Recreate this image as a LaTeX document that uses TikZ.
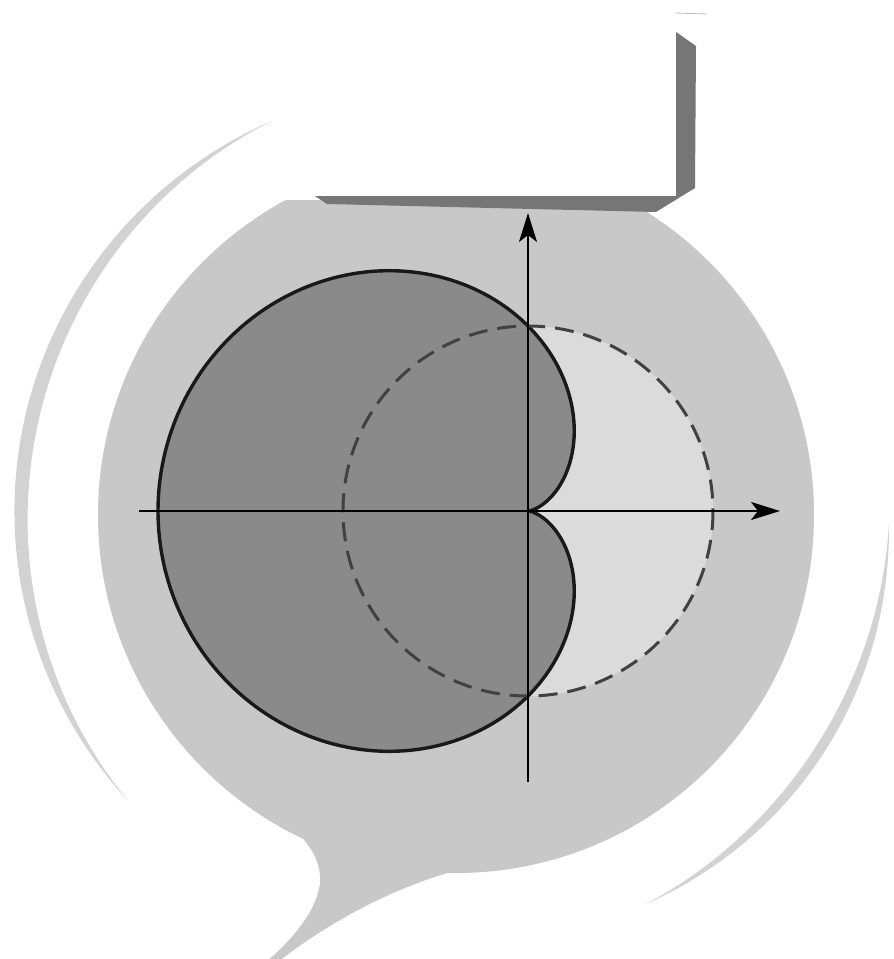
\documentclass[tikz,border=0pt]{standalone}
\usetikzlibrary{arrows.meta}
\definecolor{blobgray}{RGB}{200,200,200}
\definecolor{innergray}{RGB}{219,219,219}
\definecolor{cardgray}{RGB}{138,138,138}
\definecolor{bargray}{RGB}{118,118,118}
\definecolor{ringgray}{RGB}{210,210,210}
\definecolor{dashgray}{RGB}{65,65,65}
\tikzset{
  blob/.style={fill=blobgray},
  ring/.style={fill=ringgray},
  axis/.style={line width=2pt, -{Stealth[length=29pt,width=18pt,inset=7pt]}},
  curve/.style={line width=3.4pt, draw=black!90, fill=cardgray},
  dashcircle/.style={line width=3pt, draw=dashgray, dash pattern=on 19pt off 10pt},
  barstyle/.style={fill=bargray}
}
\begin{document}
\begin{tikzpicture}[x=1pt,y=-1pt]
\useasboundingbox (0,0) rectangle (894,959);
\fill[white] (0,0) rectangle (894,959);
% named points
\coordinate (C) at (456,515);
\coordinate (O) at (528,511);
\coordinate (xl) at (139,511);
\coordinate (xr) at (780,511);
\coordinate (yb) at (528,782);
\coordinate (yt) at (528,213);
% outer thin crescents
\fill[ring] plot[domain=115:221,samples=90]
  ({456+(435+7*sin((\x-115)/106*180))*cos(\x)},{515-(435+7*sin((\x-115)/106*180))*sin(\x)})
  -- plot[domain=221:115,samples=90]
  ({456+(435-7*sin((\x-115)/106*180))*cos(\x)},{515-(435-7*sin((\x-115)/106*180))*sin(\x)})
  -- cycle;
\fill[ring] plot[domain=-64:-1,samples=90]
  ({456+(433+5*sin((\x+64)/63*180))*cos(\x)},{515-(433+5*sin((\x+64)/63*180))*sin(\x)})
  -- plot[domain=-1:-64,samples=90]
  ({456+(433-5*sin((\x+64)/63*180))*cos(\x)},{515-(433-5*sin((\x+64)/63*180))*sin(\x)})
  -- cycle;
% speech bubble
\begin{scope}
  \clip (0,200) rectangle (894,959);
  \fill[blob] (C) circle[radius=358];
\end{scope}
\fill[blob] (285,822) .. controls (315,845) and (325,870) .. (318,893)
  .. controls (312,915) and (292,940) .. (266,962) -- (278,962)
  .. controls (312,935) and (380,890) .. (462,869) -- (420,780) -- cycle;
% top bracket
\fill[barstyle] (315,196) -- (676,196) -- (676,32) -- (696,46) -- (695,188)
  -- (656,212) -- (327,204) -- cycle;
\draw[gray!50, line width=0.8pt] (675,13) -- (707,14);
% lighter disc inside the dashed circle
\fill[innergray] (O) circle[radius=185];
% cardioid
\draw[curve] plot[domain=0:360,samples=241,smooth]
  ({528+185*(1-cos(\x))*cos(\x)},{511-185*(1-cos(\x))*sin(\x)}) -- cycle;
% dashed circle
\draw[dashcircle] (O) circle[radius=185];
% axes
\draw[axis] (xl) -- (xr);
\draw[axis] (yb) -- (yt);
\end{tikzpicture}
\end{document}
